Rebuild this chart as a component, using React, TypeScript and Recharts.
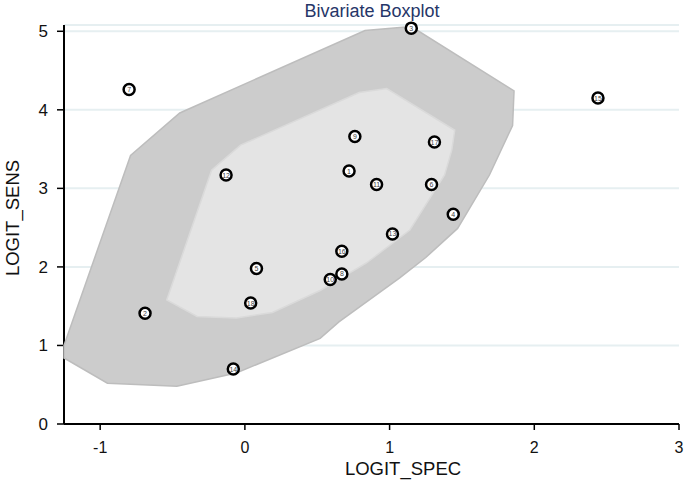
import { ScatterChart, Scatter, XAxis, YAxis, CartesianGrid } from 'recharts'

const studyIds = [1, 2, 3, 4, 5, 6, 7, 8, 9, 10, 11, 12, 13, 14, 15, 16, 17, 18]
const logitSpec = [0.72, -0.69, 1.15, 1.44, 0.08, 1.29, -0.8, 0.67, 0.76, 0.59, 0.91, -0.13, 1.02, -0.08, 2.44, 0.67, 1.31, 0.04]
const logitSens = [3.22, 1.41, 5.04, 2.67, 1.98, 3.05, 4.26, 1.91, 3.66, 1.84, 3.05, 3.17, 2.42, 0.7, 4.15, 2.2, 3.59, 1.54]

// hull outlines (bag = inner, fence = outer)
const outerSpec = [-1.25, -0.79, -0.45, 0.83, 1.15, 1.86, 1.85, 1.69, 1.47, 1.25, 1.07, 0.65, 0.52, -0.06, -0.47, -0.95, -1.25]
const outerSens = [1.0, 3.42, 3.96, 5.01, 5.06, 4.24, 3.8, 3.17, 2.49, 2.12, 1.86, 1.3, 1.09, 0.65, 0.48, 0.52, 0.84]
const innerSpec = [-0.54, -0.23, -0.03, 0.79, 0.98, 1.45, 1.43, 1.38, 1.27, 1.14, 0.84, 0.52, 0.19, -0.06, -0.33]
const innerSens = [1.58, 3.23, 3.55, 4.22, 4.27, 3.74, 3.49, 3.17, 2.85, 2.47, 2.05, 1.7, 1.42, 1.35, 1.37]

const xTicks = [-1, 0, 1, 2, 3]
const yTicks = [0, 1, 2, 3, 4, 5]

const points = studyIds.map((id, i) => ({ id, x: logitSpec[i], y: logitSens[i] }))
const outerHull = outerSpec.map((x, i) => ({ x, y: outerSens[i] }))
const innerHull = innerSpec.map((x, i) => ({ x, y: innerSens[i] }))

const hullLine = (fill: string, stroke: string) => (props: any) => {
  const pts = props.points || []
  if (!pts.length) return <g />
  const d = pts.map((p: any, i: number) => `${i ? 'L' : 'M'}${p.x},${p.y}`).join(' ') + ' Z'
  return <path d={d} fill={fill} stroke={stroke} strokeWidth={1.5} />
}

const StudyDot = (props: any) => {
  const { cx, cy, payload } = props
  return (
    <g>
      <circle cx={cx} cy={cy} r={5.5} fill="#fff" stroke="#000" strokeWidth={2.5} />
      <text x={cx} y={cy + 2.5} textAnchor="middle" fontSize={7} fill="#444" fontFamily="Liberation Sans, Arial">
        {payload.id}
      </text>
    </g>
  )
}

const font = 'Liberation Sans, Arial, sans-serif'

export default function App() {
  return (
    <div style={{ position: 'absolute', left: 0, top: 0, width: 685, height: 492, background: '#fff', fontFamily: font }}>
      <ScatterChart width={685} height={492} margin={{ top: 25, right: 6, left: 14, bottom: 8 }}>
        <CartesianGrid horizontal vertical={false} stroke="#e6eff1" strokeWidth={2} />
        <XAxis
          type="number"
          dataKey="x"
          domain={[-1.25, 3]}
          ticks={xTicks}
          height={60}
          axisLine={{ stroke: '#000', strokeWidth: 2 }}
          tickLine={{ stroke: '#000', strokeWidth: 1.5 }}
          tickSize={6}
          tickMargin={12}
          tick={{ fill: '#111', fontSize: 16, fontFamily: font }}
        />
        <YAxis
          type="number"
          dataKey="y"
          domain={[0, 5.08]}
          ticks={yTicks}
          width={50}
          axisLine={{ stroke: '#000', strokeWidth: 2 }}
          tickLine={{ stroke: '#000', strokeWidth: 1.5 }}
          tickSize={7}
          tickMargin={9}
          tick={{ fill: '#111', fontSize: 17, fontFamily: font }}
        />
        <Scatter
          data={outerHull}
          isAnimationActive={false}
          line={hullLine('#cccccc', '#bdbdbd')}
          shape={() => <g />}
          legendType="none"
        />
        <Scatter
          data={innerHull}
          isAnimationActive={false}
          line={hullLine('#e4e4e4', '#dadada')}
          shape={() => <g />}
          legendType="none"
        />
        <Scatter data={points} isAnimationActive={false} shape={StudyDot} />
      </ScatterChart>
      <div style={{ position: 'absolute', left: 372, top: 1, transform: 'translateX(-50%)', fontSize: 18, color: '#263668', whiteSpace: 'nowrap', lineHeight: '20px' }}>
        Bivariate Boxplot
      </div>
      <div style={{ position: 'absolute', left: 403, top: 459, transform: 'translateX(-50%)', fontSize: 18.5, color: '#111', whiteSpace: 'nowrap', lineHeight: '20px' }}>
        LOGIT_SPEC
      </div>
      <div style={{ position: 'absolute', left: 13, top: 218, transform: 'translate(-50%, -50%) rotate(-90deg)', fontSize: 18.5, color: '#111', whiteSpace: 'nowrap', lineHeight: '20px' }}>
        LOGIT_SENS
      </div>
    </div>
  )
}
